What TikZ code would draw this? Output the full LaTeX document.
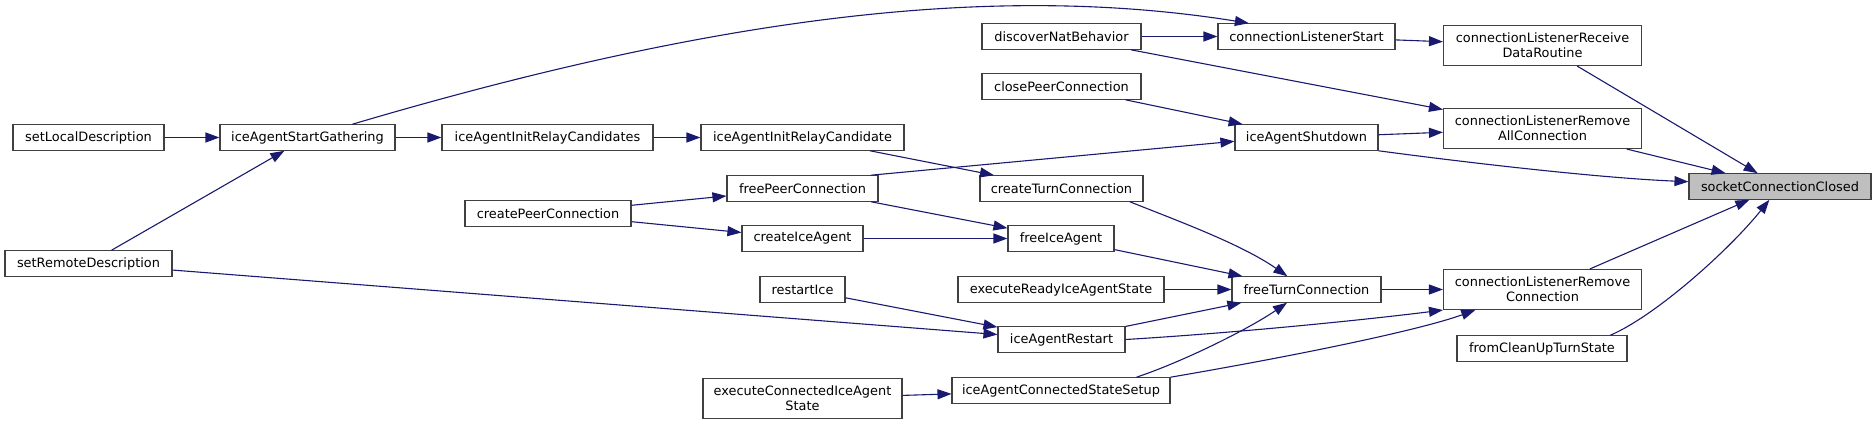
\documentclass[tikz,border=0pt]{standalone}
\usepackage{fontspec}
\setmainfont{DejaVu Sans}
\usetikzlibrary{arrows.meta}
\definecolor{EdgeBlue}{RGB}{25,25,112}
\definecolor{BoxGrey}{RGB}{64,64,64}
\definecolor{CurGrey}{RGB}{191,191,191}

\begin{document}
\begin{tikzpicture}[x=1pt,y=-1pt,
	fn/.style={draw=BoxGrey,line width=1.1pt,fill=white,inner sep=0pt,minimum height=25.5pt,font=\fontsize{12.9}{15}\selectfont,align=center},
	two/.style={fn,minimum height=40pt},
	cur/.style={fn,fill=CurGrey},
	>={Triangle[length=14pt,width=10pt]},
	call/.style={draw=EdgeBlue,line width=1.1pt,->},
	every edge/.style={call}]
\useasboundingbox (0,0) rectangle (1876,425);
\node[fn,minimum width=151pt] (setLocal) at (88.5,137.5) {setLocalDescription};
\node[fn,minimum width=167pt] (setRemote) at (88.5,263.5) {setRemoteDescription};
\node[fn,minimum width=175pt] (startGather) at (307.5,137.5) {iceAgentStartGathering};
\node[fn,minimum width=211pt] (initRelays) at (547.5,137.5) {iceAgentInitRelayCandidates};
\node[fn,minimum width=166pt] (createPeer) at (548,213.5) {createPeerConnection};
\node[fn,minimum width=203pt] (initRelay) at (802.5,137.5) {iceAgentInitRelayCandidate};
\node[fn,minimum width=151pt] (freePeer) at (802.5,188.5) {freePeerConnection};
\node[fn,minimum width=121pt] (createAgent) at (802.5,238.5) {createIceAgent};
\node[fn,minimum width=85pt] (restart) at (802.5,289.5) {restartIce};
\node[two,minimum width=199pt] (execConnected) at (802.5,398.5) {executeConnectedIceAgent\\State};
\node[fn,minimum width=159pt] (discoverNat) at (1061.5,36.5) {discoverNatBehavior};
\node[fn,minimum width=159pt] (closePeer) at (1061.5,86.5) {closePeerConnection};
\node[fn,minimum width=163pt] (createTurn) at (1061.5,188.5) {createTurnConnection};
\node[fn,minimum width=106pt] (freeAgent) at (1061,238.5) {freeIceAgent};
\node[fn,minimum width=206pt] (execReady) at (1061,289.5) {executeReadyIceAgentState};
\node[fn,minimum width=127pt] (agentRestart) at (1061.5,339.5) {iceAgentRestart};
\node[fn,minimum width=218pt] (connSetup) at (1061,390.5) {iceAgentConnectedStateSetup};
\node[fn,minimum width=177pt] (listenStart) at (1306.5,36.5) {connectionListenerStart};
\node[fn,minimum width=143pt] (shutdown) at (1306.5,137.5) {iceAgentShutdown};
\node[fn,minimum width=149pt] (freeTurn) at (1306.5,289.5) {freeTurnConnection};
\node[two,minimum width=198pt] (receive) at (1542.5,45.5) {connectionListenerReceive\\DataRoutine};
\node[two,minimum width=198pt] (removeAll) at (1542.5,128.5) {connectionListenerRemove\\AllConnection};
\node[two,minimum width=198pt] (removeOne) at (1542.5,289.5) {connectionListenerRemove\\Connection};
\node[fn,minimum width=170pt] (cleanUp) at (1542,348.5) {fromCleanUpTurnState};
\node[cur,minimum width=182pt] (socketClosed) at (1780,186.5) {socketConnectionClosed};
\draw (setLocal) edge (startGather);
\draw (setRemote) edge (startGather);
\draw (setRemote) edge (agentRestart);
\draw (startGather) edge (initRelays);
\draw[call] (startGather) .. controls (732,12) and (1003,-16) .. (listenStart.167);
\draw (initRelays) edge (initRelay);
\draw (initRelay) edge (createTurn);
\draw (freePeer.11) edge (shutdown.183);
\draw (createPeer) edge (freePeer);
\draw (createPeer) edge (createAgent);
\draw (freePeer) edge (freeAgent);
\draw (createAgent) edge (freeAgent);
\draw (restart) edge (agentRestart);
\draw (execConnected) edge (connSetup);
\draw (discoverNat) edge (listenStart);
\draw (discoverNat) edge (removeAll);
\draw (closePeer) edge (shutdown);
\draw (shutdown) edge (removeAll);
\draw[call] (shutdown.south east) .. controls (1470,163) and (1600,178) .. (socketClosed.177);
\draw[call] (createTurn.349) .. controls (1178,221) and (1241,244) .. (freeTurn);
\draw (freeAgent) edge (freeTurn);
\draw (execReady) edge (freeTurn);
\draw (agentRestart) edge (freeTurn);
\draw[call] (agentRestart.east) .. controls (1250,332) and (1380,318) .. (removeOne.south west);
\draw[call] (connSetup.10) .. controls (1182,362) and (1247,330) .. (freeTurn);
\draw[call] (connSetup.north east) .. controls (1300,355) and (1420,330) .. (removeOne.197);
\draw (freeTurn) edge (removeOne);
\draw (listenStart) edge (receive);
\draw (receive) edge (socketClosed);
\draw (removeAll) edge (socketClosed);
\draw (removeOne) edge (socketClosed);
\draw[call] (cleanUp.11) .. controls (1657,315) and (1730,249) .. (socketClosed);
\end{tikzpicture}
\end{document}
